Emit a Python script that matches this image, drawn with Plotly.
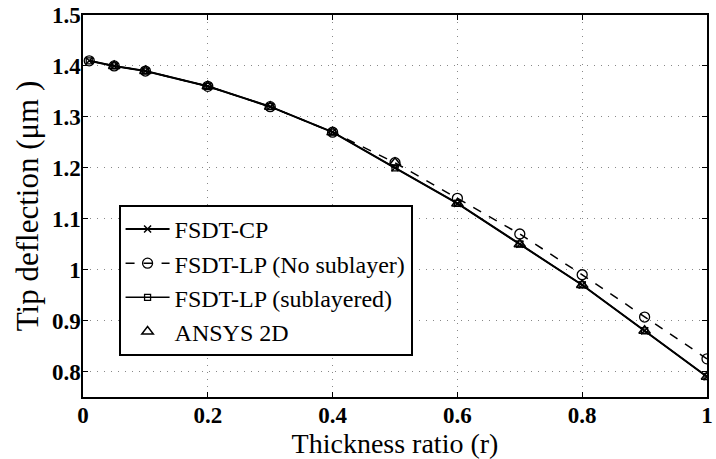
import plotly.graph_objects as go

r = [0.01, 0.05, 0.1, 0.2, 0.3, 0.4, 0.5, 0.6, 0.7, 0.8, 0.9, 1.0]
fsdt_cp = [1.41, 1.40, 1.39, 1.36, 1.32, 1.27, 1.20, 1.13, 1.05, 0.97, 0.88, 0.79]
fsdt_lp_nosub = [1.41, 1.40, 1.39, 1.36, 1.32, 1.27, 1.21, 1.14, 1.07, 0.99, 0.907, 0.825]
fsdt_lp_sub = [1.41, 1.40, 1.39, 1.36, 1.32, 1.27, 1.20, 1.13, 1.05, 0.97, 0.88, 0.79]
r_ansys = [0.05, 0.1, 0.2, 0.3, 0.4, 0.5, 0.6, 0.7, 0.8, 0.9, 1.0]
ansys = [1.40, 1.39, 1.36, 1.32, 1.27, 1.21, 1.13, 1.05, 0.97, 0.88, 0.79]

FONT = "Liberation Serif"
fig = go.Figure()
fig.add_trace(go.Scatter(x=r, y=fsdt_cp, name="FSDT-CP", mode="lines+markers",
                         line=dict(color="black", width=2),
                         marker=dict(symbol="x-thin", size=7, color="black",
                                     line=dict(color="black", width=1.5))))
fig.add_trace(go.Scatter(x=r, y=fsdt_lp_nosub, name="FSDT-LP (No sublayer)", mode="lines+markers",
                         line=dict(color="black", width=1.5, dash="dash"),
                         marker=dict(symbol="circle-open", size=10, color="black",
                                     line=dict(color="black", width=1.3))))
fig.add_trace(go.Scatter(x=r, y=fsdt_lp_sub, name="FSDT-LP (sublayered)", mode="lines+markers",
                         line=dict(color="black", width=1.5),
                         marker=dict(symbol="square-open", size=6, color="black",
                                     line=dict(color="black", width=1.3))))
fig.add_trace(go.Scatter(x=r_ansys, y=ansys, name="ANSYS 2D", mode="markers",
                         marker=dict(symbol="triangle-up-open", size=10, color="black",
                                     line=dict(color="black", width=1.5))))

axis_common = dict(showline=True, linecolor="black", linewidth=1.5, mirror="ticks",
                   ticks="inside", ticklen=5, tickcolor="black",
                   showgrid=True, gridcolor="#888888", griddash="1px,6px", gridwidth=1,
                   zeroline=False, ticklabeloverflow="allow",
                   tickfont=dict(family=FONT, size=23, color="black", weight="bold"))

fig.update_layout(
    width=716, height=459,
    margin=dict(l=83, r=3, t=15, b=62),
    paper_bgcolor="white", plot_bgcolor="white",
    font=dict(family=FONT, color="black"),
    xaxis=dict(range=[0, 1], tickvals=[0, 0.2, 0.4, 0.6, 0.8, 1],
               ticktext=["0", "0.2", "0.4", "0.6", "0.8", "1"],
               ticklabelstandoff=-3,
               title=dict(text="Thickness ratio (r)", font=dict(family=FONT, size=28, color="black"), standoff=0),
               **axis_common),
    yaxis=dict(range=[0.75, 1.5], tickvals=[0.8, 0.9, 1.0, 1.1, 1.2, 1.3, 1.4, 1.5],
               ticktext=["0.8", "0.9", "1", "1.1", "1.2", "1.3", "1.4", "1.5"],
               ticklabelstandoff=-4,
               title=dict(text="Tip deflection (μm )", font=dict(family=FONT, size=31, color="black"), standoff=4),
               **axis_common),
    legend=dict(x=0.057, y=0.503, xanchor="left", yanchor="top",
                bgcolor="white", bordercolor="black", borderwidth=2,
                font=dict(family=FONT, size=24, color="black"),
                itemwidth=44, tracegroupgap=0),
    showlegend=True,
)

fig.write_html("out.html")
